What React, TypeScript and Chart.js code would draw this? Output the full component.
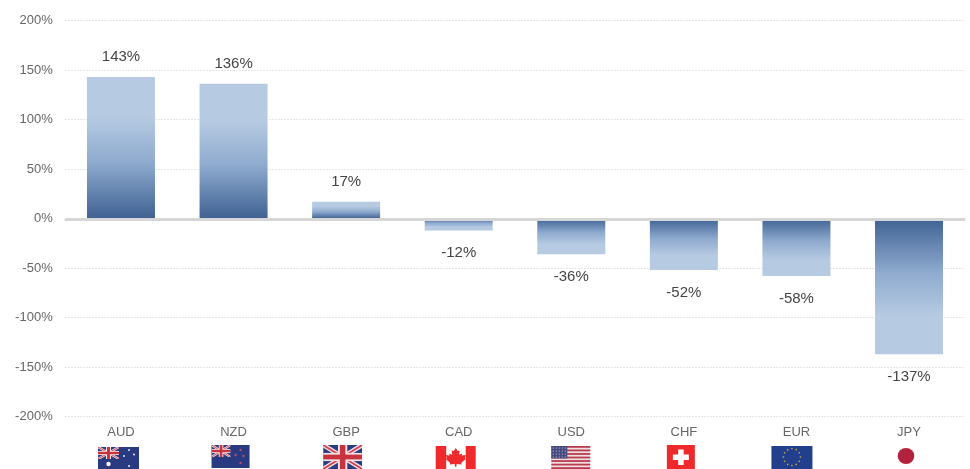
import { useEffect, useRef } from "react";
import { Chart, registerables } from "chart.js";

Chart.register(...registerables);

const currencies = ["AUD", "NZD", "GBP", "CAD", "USD", "CHF", "EUR", "JPY"];
const changes = [143, 136, 17, -12, -36, -52, -58, -137];
const yTicks = [200, 150, 100, 50, 0, -50, -100, -150, -200];

const FONT = '"Liberation Sans", Arial, sans-serif';
const NAVY = "#2a3a80";
const RED = "#e8303a";

type Ctx = CanvasRenderingContext2D;

function rect(c: Ctx, col: string, x: number, y: number, w: number, h: number) {
  c.fillStyle = col;
  c.fillRect(x, y, w, h);
}
function seg(c: Ctx, col: string, lw: number, x1: number, y1: number, x2: number, y2: number) {
  c.strokeStyle = col;
  c.lineWidth = lw;
  c.beginPath();
  c.moveTo(x1, y1);
  c.lineTo(x2, y2);
  c.stroke();
}
function dot(c: Ctx, col: string, x: number, y: number, r: number) {
  c.fillStyle = col;
  c.beginPath();
  c.arc(x, y, r, 0, Math.PI * 2);
  c.fill();
}
function jack(c: Ctx, x: number, y: number, w: number, h: number) {
  c.save();
  c.beginPath();
  c.rect(x, y, w, h);
  c.clip();
  rect(c, "#2a3c80", x, y, w, h);
  const d = h * 0.19;
  seg(c, "#f3e6e8", d, x, y, x + w, y + h);
  seg(c, "#f3e6e8", d, x + w, y, x, y + h);
  seg(c, "#d8404f", d * 0.4, x, y, x + w, y + h);
  seg(c, "#d8404f", d * 0.4, x + w, y, x, y + h);
  rect(c, "#f0e4e6", x, y + h * 0.33, w, h * 0.34);
  rect(c, "#f0e4e6", x + w * 0.38, y, w * 0.24, h);
  rect(c, "#c8333f", x, y + h * 0.4, w, h * 0.2);
  rect(c, "#c8333f", x + w * 0.43, y, w * 0.14, h);
  c.restore();
}

const flags: Record<string, (c: Ctx, cx: number) => void> = {
  AUD(c, cx) {
    const x = cx - 23, y = 447;
    rect(c, NAVY, x, y, 41, 22);
    jack(c, x, y, 21, 12);
    dot(c, "#f2f2ff", x + 10.5, y + 17, 2.2);
    [[31, 3], [26, 9], [36, 7.5], [31, 19]].forEach(([a, b]) => dot(c, "#e6e8f8", x + a, y + b, 1));
  },
  NZD(c, cx) {
    const x = cx - 22, y = 445;
    rect(c, NAVY, x, y, 38, 23);
    jack(c, x, y, 19, 12);
    [[29, 5], [24, 10], [32, 11], [29, 18]].forEach(([a, b]) => dot(c, "#b0506e", x + a, y + b, 1.2));
  },
  GBP(c, cx) {
    jack(c, cx - 23, 445, 39, 24);
  },
  CAD(c, cx) {
    const x = cx - 23, y = 446;
    rect(c, "#ffffff", x, y, 40, 23);
    rect(c, "#ee2a2c", x, y, 10.5, 23);
    rect(c, "#ee2a2c", x + 30, y, 10, 23);
    const m = x + 20;
    c.fillStyle = "#ee2a2c";
    c.beginPath();
    const pts = [[0, 2], [2, 5], [4, 4.5], [3.5, 9], [6, 7.5], [6.5, 9.5], [10, 9], [9, 12], [10, 13], [5.5, 17], [6, 18.5], [1, 18], [0.5, 21], [-0.5, 21], [-1, 18], [-6, 18.5], [-5.5, 17], [-10, 13], [-9, 12], [-10, 9], [-6.5, 9.5], [-6, 7.5], [-3.5, 9], [-4, 4.5], [-2, 5]];
    pts.forEach(([a, b], i) => (i ? c.lineTo(m + a, y + b) : c.moveTo(m + a, y + b)));
    c.closePath();
    c.fill();
  },
  USD(c, cx) {
    const x = cx - 20, y = 446, h = 23 / 13;
    rect(c, "#f0dfe0", x, y, 39, 23);
    for (let i = 0; i < 13; i += 2) rect(c, "#b83a4c", x, y + i * h, 39, h);
    rect(c, "#45497f", x, y, 16, 12.5);
    for (let a = 0; a < 5; a++)
      for (let b = 0; b < 4; b++) dot(c, "#cfd2e6", x + 2 + a * 3, y + 2 + b * 3, 0.6);
  },
  CHF(c, cx) {
    const x = cx - 17, y = 445;
    rect(c, "#ee2a2c", x, y, 28, 24);
    rect(c, "#ffffff", x + 6, y + 9.5, 16, 5.5);
    rect(c, "#ffffff", x + 11.3, y + 4.5, 5.5, 15.5);
  },
  EUR(c, cx) {
    const x = cx - 25, y = 446;
    rect(c, "#223f8e", x, y, 41, 23);
    for (let i = 0; i < 12; i++) {
      const t = (i / 12) * Math.PI * 2;
      dot(c, "#c9a83c", x + 20.5 + Math.cos(t) * 8.5, y + 11 + Math.sin(t) * 8.5, 0.85);
    }
  },
  JPY(c, cx) {
    c.fillStyle = "#b2223c";
    c.beginPath();
    c.ellipse(cx - 3, 456, 8.3, 8, 0, 0, Math.PI * 2);
    c.fill();
  },
};

const barGradient = (context: any) => {
  const chart = context.chart;
  if (!chart.chartArea) return "#8fabcf";
  const v = changes[context.dataIndex];
  const scale = chart.scales.y;
  const g = chart.ctx.createLinearGradient(0, scale.getPixelForValue(0), 0, scale.getPixelForValue(v));
  g.addColorStop(0, "#3f6293");
  g.addColorStop(0.4, "#8fabcf");
  g.addColorStop(0.72, "#b6cae2");
  g.addColorStop(1, "#b6cae2");
  return g;
};

const overlay = {
  id: "overlay",
  afterDatasetsDraw(chart: any) {
    const { ctx, scales, chartArea } = chart;
    const zero = scales.y.getPixelForValue(0);
    ctx.save();
    rect(ctx, "#d6d6d6", chartArea.left, zero - 0.5, chartArea.right - chartArea.left, 3);
    ctx.font = `15px ${FONT}`;
    ctx.fillStyle = "#444444";
    ctx.textAlign = "center";
    ctx.textBaseline = "middle";
    chart.getDatasetMeta(0).data.forEach((bar: any, i: number) => {
      const v = changes[i];
      ctx.fillText(`${v}%`, bar.x, bar.y + (v >= 0 ? -20 : 22.5));
    });
    currencies.forEach((code, i) => flags[code](ctx, scales.x.getPixelForValue(i)));
    ctx.restore();
  },
};

export default function App() {
  const ref = useRef<HTMLCanvasElement>(null);
  useEffect(() => {
    const chart = new Chart(ref.current!, {
      type: "bar",
      data: {
        labels: currencies,
        datasets: [{ data: changes, backgroundColor: barGradient, categoryPercentage: 1, barPercentage: 0.604, borderWidth: 0 }],
      },
      plugins: [overlay],
      options: {
        responsive: false,
        animation: false,
        layout: { padding: { top: 20.5, right: 4.7, left: 0, bottom: 0 } },
        plugins: { legend: { display: false }, tooltip: { enabled: false } },
        scales: {
          x: {
            afterFit(s: any) {
              s.height = 52.5;
            },
            grid: { display: false },
            border: { display: false },
            ticks: { color: "#666666", font: { family: FONT, size: 13 }, padding: 0, maxRotation: 0, autoSkip: false, labelOffset: 0 },
          },
          y: {
            min: -200,
            max: 200,
            afterFit(s: any) {
              s.width = 64.7;
            },
            afterBuildTicks(s: any) {
              s.ticks = yTicks.map((value) => ({ value }));
            },
            grid: { color: "#e6e6e6", lineWidth: 1, drawTicks: false },
            border: { display: false, dash: [2, 1] },
            ticks: { color: "#666666", font: { family: FONT, size: 13 }, padding: 12, callback: (v: any) => `${v}%` },
          },
        },
      } as any,
    });
    return () => chart.destroy();
  }, []);
  return (
    <div style={{ position: "fixed", left: 0, top: 0, width: 970, height: 469, background: "#fff" }}>
      <canvas ref={ref} width={970} height={469} style={{ display: "block" }} />
    </div>
  );
}
